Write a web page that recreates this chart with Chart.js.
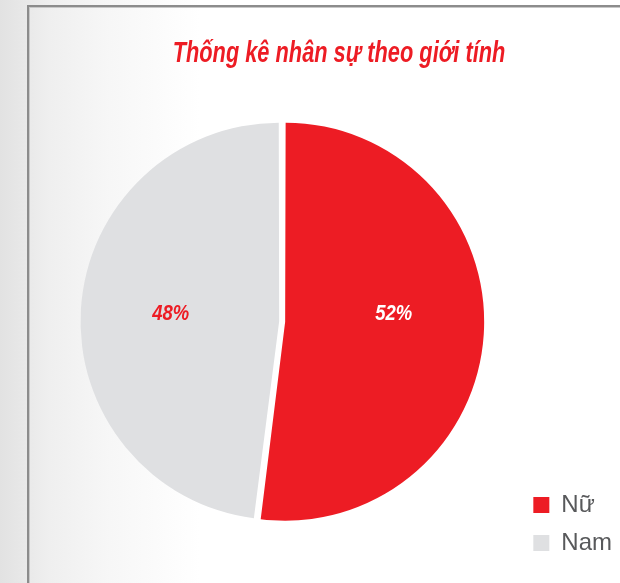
<!DOCTYPE html>
<html>
<head>
<meta charset="utf-8">
<script src="https://cdn.jsdelivr.net/npm/chart.js@4"></script>
<style>
  html, body { margin: 0; padding: 0; }
  body {
    width: 620px; height: 583px; overflow: hidden; position: relative;
    background: linear-gradient(to right, #e2e2e2 0px, #efefef 50px, #f7f7f7 110px, #ffffff 200px);
  }
  .frame {
    position: absolute; left: 27px; top: 5px; width: 700px; height: 700px;
    border-left: 2px solid #8c8c8c; border-top: 2px solid #8c8c8c;
    box-shadow: inset 1px 1px 0 #c8c8c8;
  }
  #chart { position: absolute; left: 29px; top: 7px; }
</style>
</head>
<body>
<div class="frame"></div>
<canvas id="chart" width="599" height="576"></canvas>
<script>
/* ── Data ── */
const TITLE = 'Thống kê nhân sự theo giới tính';
const LABELS = ['Nữ', 'Nam'];
const VALUES = [52, 48];
const SLICE_COLORS = ['#ed1c24', '#dfe0e2'];
const LABEL_COLORS = ['#ffffff', '#ed1c24'];

const FONT = "'Liberation Sans', Arial, sans-serif";

// condensed italic title (no narrow font installed, so squeeze it)
const condensedTitle = {
  id: 'condensedTitle',
  afterDraw(chart) {
    const ctx = chart.ctx;
    ctx.save();
    ctx.font = 'italic bold 30px ' + FONT;
    ctx.fillStyle = '#ed1c24';
    ctx.textAlign = 'center';
    ctx.textBaseline = 'alphabetic';
    ctx.translate(310, 55);
    ctx.scale(0.726, 1);
    ctx.fillText(TITLE, 0, 0);
    ctx.restore();
  }
};

// percent labels drawn inside the slices
const pctLabels = {
  id: 'pctLabels',
  afterDatasetsDraw(chart) {
    const ctx = chart.ctx;
    const meta = chart.getDatasetMeta(0);
    const total = VALUES.reduce((a, b) => a + b, 0);
    ctx.save();
    ctx.font = 'italic bold 22px ' + FONT;
    ctx.textAlign = 'center';
    ctx.textBaseline = 'middle';
    meta.data.forEach((arc, i) => {
      const mid = (arc.startAngle + arc.endAngle) / 2;
      const x = arc.x + Math.cos(mid) * arc.outerRadius * 0.57;
      const y = arc.y - 8;
      ctx.save();
      ctx.translate(x, y);
      ctx.scale(0.84, 1);
      ctx.fillStyle = LABEL_COLORS[i];
      ctx.fillText(Math.round(VALUES[i] / total * 100) + '%', 0, 0);
      ctx.restore();
    });
    ctx.restore();
  }
};

new Chart(document.getElementById('chart'), {
  type: 'pie',
  data: {
    labels: LABELS,
    datasets: [{
      data: VALUES,
      backgroundColor: SLICE_COLORS,
      borderWidth: 0,
      offset: 12,
      radius: 196
    }]
  },
  options: {
    responsive: false,
    animation: false,
    layout: { padding: { left: 16, right: 6, top: 67, bottom: 14 } },
    plugins: {
      tooltip: { enabled: false },
      title: { display: false },
      legend: {
        position: 'right',
        align: 'end',
        labels: {
          color: '#58595b',
          font: { family: FONT, size: 24 },
          boxWidth: 16,
          boxHeight: 16,
          padding: 14,
          generateLabels: chart => Chart.overrides.pie.plugins.legend.labels.generateLabels(chart)
            .map(l => ({ ...l, lineWidth: 0, strokeStyle: 'transparent' }))
        }
      }
    }
  },
  plugins: [pctLabels, condensedTitle]
});
</script>
</body>
</html>
